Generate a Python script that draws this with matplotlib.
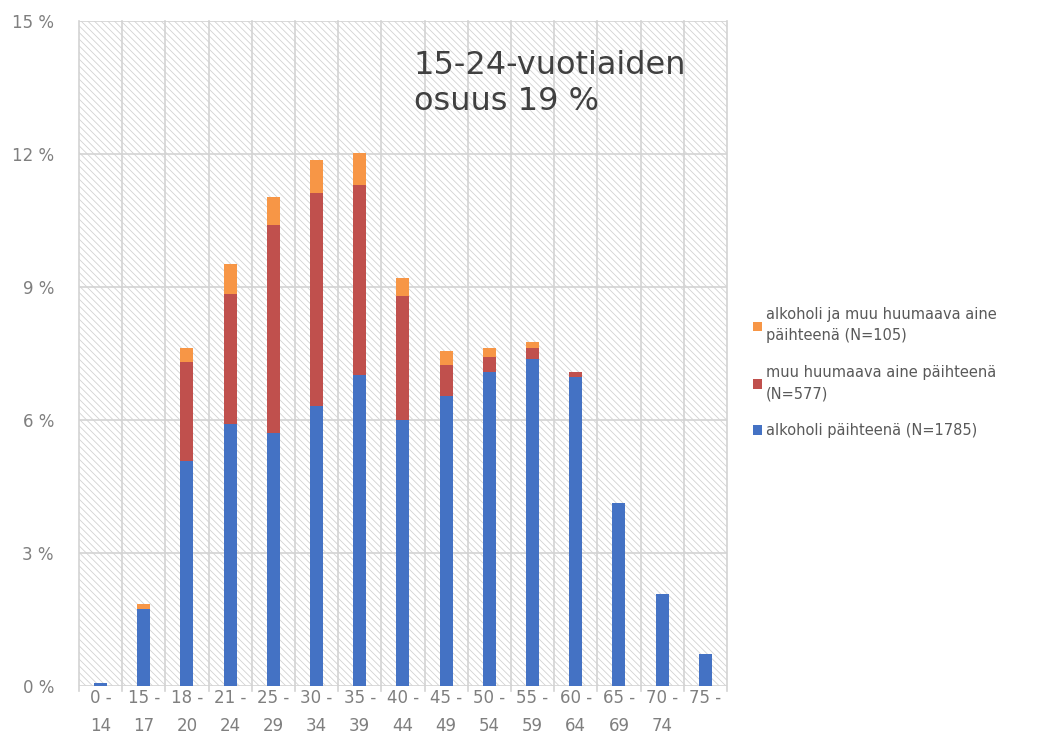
import matplotlib.pyplot as plt
import numpy as np
from matplotlib.patches import Rectangle

# age groups
groups = ['0 -\n14', '15 -\n17', '18 -\n20', '21 -\n24', '25 -\n29', '30 -\n34', '35 -\n39',
          '40 -\n44', '45 -\n49', '50 -\n54', '55 -\n59', '60 -\n64', '65 -\n69', '70 -\n74', '75 -']
# shares in %, stacked: alcohol, other drug, both
alcohol = [0.07, 1.74, 5.08, 5.91, 5.71, 6.32, 7.02, 6.00, 6.54, 7.08, 7.38, 6.97, 4.13, 2.08, 0.72]
drug = [0.0, 0.0, 2.23, 2.93, 4.69, 4.80, 4.28, 2.80, 0.70, 0.34, 0.24, 0.11, 0.0, 0.0, 0.0]
both = [0.0, 0.11, 0.31, 0.68, 0.63, 0.75, 0.72, 0.40, 0.32, 0.20, 0.14, 0.0, 0.0, 0.0, 0.0]
labels = ['alkoholi päihteenä (N=1785)',
          'muu huumaava aine päihteenä\n(N=577)',
          'alkoholi ja muu huumaava aine\npäihteenä (N=105)']
yticks = [0, 3, 6, 9, 12, 15]

c_blue = '#4472C4'
c_red = '#C0504D'
c_orange = '#F79646'
grey = '#7f7f7f'

fig = plt.figure(figsize=(10.57, 7.5), dpi=100)
ax = fig.add_axes([0.0747, 0.0853, 0.613, 0.8867])

x = np.arange(len(groups))
ax.set_xlim(-0.5, len(groups) - 0.5)
ax.set_ylim(0, 15)

# hatched background
plt.rcParams['hatch.color'] = '#d2d2d2'
plt.rcParams['hatch.linewidth'] = 0.6
ax.add_patch(Rectangle((-0.5, 0), len(groups), 15, facecolor='white', edgecolor='#d2d2d2',
                       hatch='\\\\\\\\\\', linewidth=0, zorder=0))

# grid
for b in np.arange(-0.5, len(groups) + 0.5, 1):
    ax.plot([b, b], [-0.12, 15], color='#d3d3d3', lw=1.2, zorder=1, clip_on=False)
for t in yticks:
    ax.axhline(t, color='#d3d3d3', lw=1.2, zorder=1)

w = 0.3
alc = np.array(alcohol)
drg = np.array(drug)
ax.bar(x, alc, w, color=c_blue, label=labels[0], zorder=3)
ax.bar(x, drg, w, bottom=alc, color=c_red, label=labels[1], zorder=3)
ax.bar(x, both, w, bottom=alc + drg, color=c_orange, label=labels[2], zorder=3)

for s in ax.spines.values():
    s.set_visible(False)
ax.set_yticks(yticks)
ax.set_yticklabels([f'{t} %' for t in yticks])
ax.set_xticks(x)
ax.set_xticklabels(groups)
ax.tick_params(axis='both', length=0, labelsize=12, colors=grey)
ax.tick_params(axis='x', pad=2)
ax.tick_params(axis='y', pad=18)
for lab in ax.get_xticklabels():
    lab.set_linespacing(1.75)

ax.text(7.25, 14.35, '15-24-vuotiaiden\nosuus 19 %', fontsize=23, color='#404040',
        va='top', ha='left', linespacing=1.2, zorder=4)

h, l = ax.get_legend_handles_labels()
leg = fig.legend(h[::-1], l[::-1], loc='center left', bbox_to_anchor=(0.7, 0.503), frameon=False,
                 fontsize=10.5, labelcolor='#595959', handlelength=0.6, handleheight=0.6,
                 handletextpad=0.3, labelspacing=1.5)
for t in leg.get_texts():
    t.set_linespacing(1.5)

fig.savefig('out.png', dpi=100)
